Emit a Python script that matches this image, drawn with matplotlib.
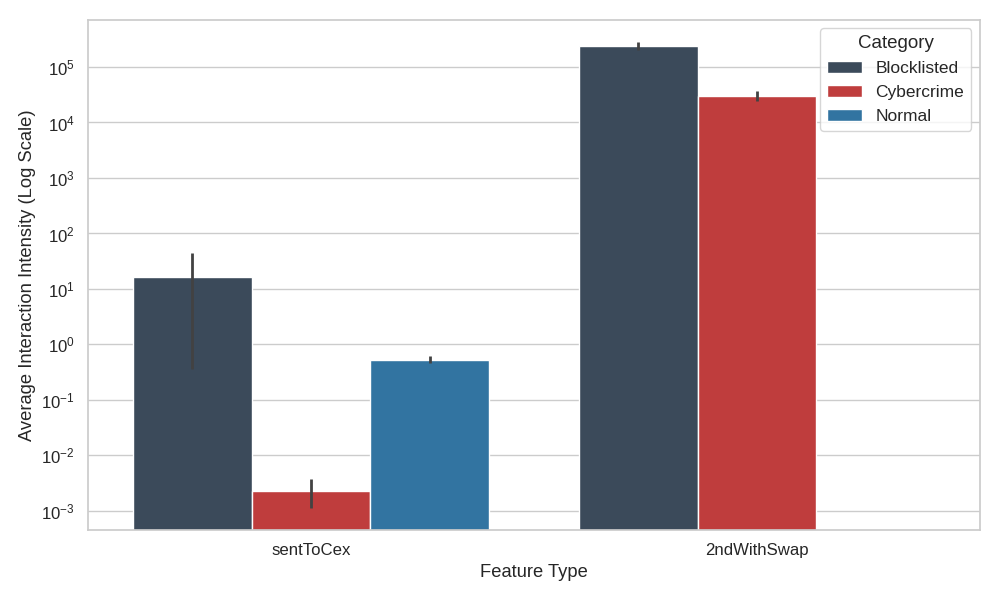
import numpy as np
import matplotlib
matplotlib.use("Agg")
import matplotlib.pyplot as plt
import seaborn as sns

features = ["sentToCex", "2ndWithSwap"]
categories = ["Blocklisted", "Cybercrime", "Normal"]
colors = ["#3b4a5a", "#bf3d3d", "#3274a1"]

# mean values per category, per feature (NaN = no bar)
means = {
    "Blocklisted": [16.5, 2.35e5],
    "Cybercrime": [0.0023, 2.95e4],
    "Normal": [0.52, np.nan],
}
ci_low = {
    "Blocklisted": [0.36, 2.05e5],
    "Cybercrime": [0.00112, 2.4e4],
    "Normal": [0.46, np.nan],
}
ci_high = {
    "Blocklisted": [44.0, 2.8e5],
    "Cybercrime": [0.0038, 3.7e4],
    "Normal": [0.62, np.nan],
}

sns.set_theme(style="whitegrid", font_scale=1.1)
plt.rcParams["font.family"] = ["Liberation Sans", "DejaVu Sans"]

fig, ax = plt.subplots(figsize=(10, 6), dpi=100)
x = np.arange(len(features))
n = len(categories)
width = 0.8 / n
for i, (cat, col) in enumerate(zip(categories, colors)):
    pos = x - 0.4 + width * (i + 0.5)
    m = np.array(means[cat], dtype=float)
    ax.bar(pos, m, width=width, color=col, edgecolor="white", linewidth=1, label=cat)
    for p, mv, lo, hi in zip(pos, m, ci_low[cat], ci_high[cat]):
        if np.isnan(mv):
            continue
        ax.plot([p, p], [lo, hi], color=".26", linewidth=2.0, solid_capstyle="butt")

ax.set_yscale("log")
ax.set_xticks(x)
ax.set_xticklabels(features)
ax.set_xlim(-0.5, 1.5)
ax.set_ylim(10**-3.34, 10**5.85)
ax.set_xlabel("Feature Type")
ax.set_ylabel("Average Interaction Intensity (Log Scale)")
ax.grid(axis="x", visible=False)
ax.legend(title="Category", loc="upper right", fontsize=12.5, title_fontsize=13.5)
fig.subplots_adjust(left=0.088, right=0.98, top=0.967, bottom=0.117)
fig.savefig("out.png", dpi=100)
